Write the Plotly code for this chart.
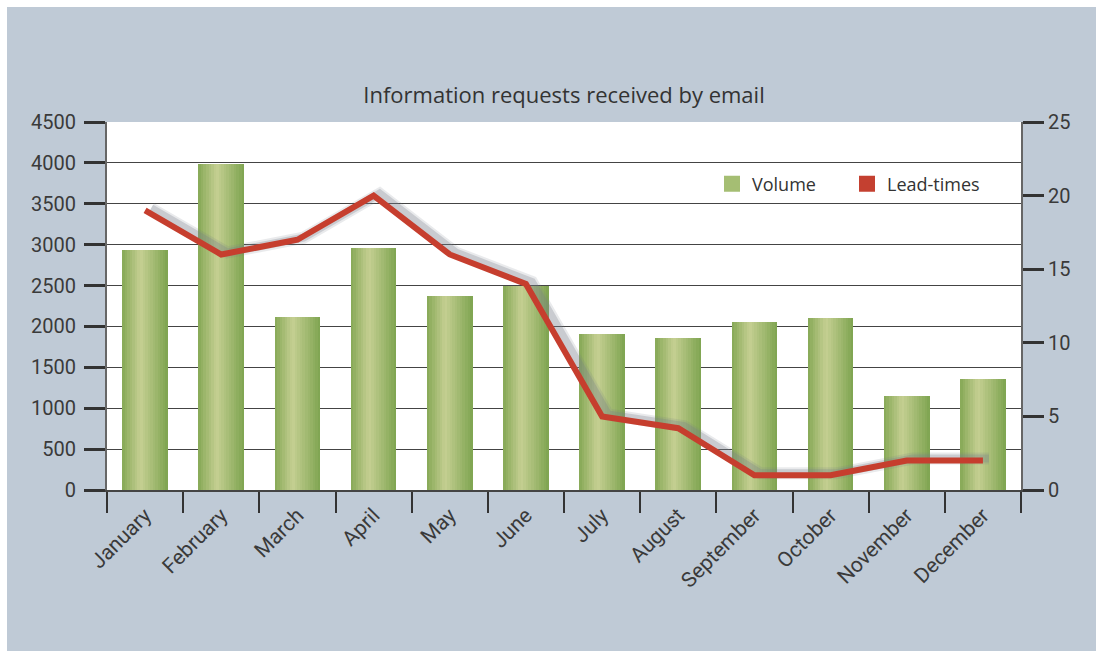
import plotly.graph_objects as go

# ---------------- data ----------------
months = ["January", "February", "March", "April", "May", "June",
          "July", "August", "September", "October", "November", "December"]
volume = [2930, 3990, 2120, 2960, 2370, 2500, 1910, 1860, 2060, 2100, 1150, 1360]
lead_times = [19, 16, 17, 20, 16, 14, 5, 4.2, 1, 1, 2, 2]
left_ticks = [0, 500, 1000, 1500, 2000, 2500, 3000, 3500, 4000, 4500]
right_ticks = [0, 5, 10, 15, 20, 25]
title_text = "Information requests received by email"

# ---------------- geometry ----------------
W_FIG, H_FIG = 1096, 651
PL, PR, PT, PB = 107, 1021, 122, 490      # plot area in pixels
SX, SY = 6, 2                              # shadow offset (right, up)
ml = PL
mr = W_FIG - (PR + SX)
mt = PT - SY
mb = H_FIG - PB
pw = W_FIG - ml - mr
ph = H_FIG - mt - mb


def px(x):
    return (x - ml) / pw


def py(y):
    return (H_FIG - mb - y) / ph


TICK_FONT = dict(family="Roboto, Liberation Sans, sans-serif", size=20, color="#3a3a3a")
XTICK_FONT = dict(family="Roboto, Liberation Sans, sans-serif", size=21, color="#3a3a3a")
TEXT_FONT = dict(family="Open Sans, Noto Sans, sans-serif", color="#333333")

fig = go.Figure()

# ---------------- gradient bars (vertical strips) ----------------
BAR_W = 0.6
N_STRIPS = 18
stops = [(0.0, (134, 168, 86)), (0.4, (197, 207, 146)), (1.0, (126, 164, 80))]


def grad(t):
    for (t0, c0), (t1, c1) in zip(stops[:-1], stops[1:]):
        if t0 <= t <= t1:
            f = (t - t0) / (t1 - t0)
            return "rgb(%d,%d,%d)" % tuple(round(a + (b - a) * f) for a, b in zip(c0, c1))
    return "rgb(%d,%d,%d)" % stops[-1][1]


sw = BAR_W / N_STRIPS
for i in range(N_STRIPS):
    t = (i + 0.5) / N_STRIPS
    fig.add_trace(go.Bar(
        x=months, y=volume,
        width=sw * 1.15 if i < N_STRIPS - 1 else sw,
        offset=-BAR_W / 2 + i * sw,
        marker=dict(color=grad(t), line=dict(width=0)),
        showlegend=False, hoverinfo="skip",
        xaxis="x", yaxis="y",
    ))

# ---------------- legend entries ----------------
fig.add_trace(go.Scatter(
    x=[None], y=[None], mode="markers", name="Volume",
    marker=dict(symbol="square", size=16, color="rgb(165,190,115)"),
    xaxis="x", yaxis="y",
))
fig.add_trace(go.Scatter(
    x=[None], y=[None], mode="markers", name="Lead-times",
    marker=dict(symbol="square", size=16, color="rgb(196,64,48)"),
    xaxis="x", yaxis="y",
))
# keeps the right-hand (lead-time) axis drawn
fig.add_trace(go.Scatter(
    x=[None], y=[None], mode="markers", showlegend=False, hoverinfo="skip",
    xaxis="x", yaxis="y3",
))

# ---------------- line shadow (offset subplot) ----------------
fig.add_trace(go.Scatter(
    x=months, y=lead_times, mode="lines",
    line=dict(color="rgba(120,125,135,0.28)", width=8),
    showlegend=False, hoverinfo="skip",
    xaxis="x2", yaxis="y2",
))
fig.add_trace(go.Scatter(
    x=months, y=lead_times, mode="lines",
    line=dict(color="rgba(120,125,135,0.16)", width=12),
    showlegend=False, hoverinfo="skip",
    xaxis="x2", yaxis="y2",
))

# ---------------- main line (own subplot, drawn above the shadow) ----------------
fig.add_trace(go.Scatter(
    x=months, y=lead_times, mode="lines", name="Lead-times line",
    line=dict(color="rgb(198,62,46)", width=6),
    showlegend=False,
    xaxis="x3", yaxis="y4",
))

x_dom = [0, px(PR)]
y_dom = [py(PB), py(PT)]

fig.update_layout(
    width=W_FIG, height=H_FIG,
    margin=dict(l=ml, r=mr, t=mt, b=mb, pad=0),
    paper_bgcolor="white",
    plot_bgcolor="rgba(0,0,0,0)",
    barmode="overlay",
    bargap=0,
    title=dict(text=title_text, x=564 / W_FIG, xref="container", xanchor="center",
               y=1 - 95 / H_FIG, yref="container", yanchor="middle",
               font=dict(size=22, **TEXT_FONT)),
    xaxis=dict(
        domain=x_dom, type="category", categoryorder="array", categoryarray=months,
        range=[-0.5, 11.5], tickson="boundaries",
        ticks="outside", ticklen=21, tickwidth=2, tickcolor="#333333",
        showline=True, linecolor="#444444", linewidth=1.5,
        showgrid=False, tickangle=-45, tickfont=XTICK_FONT, ticklabelstandoff=3,
        anchor="y", fixedrange=True,
    ),
    yaxis=dict(
        domain=y_dom, range=[0, 4500], tickvals=left_ticks,
        ticks="outside", ticklen=21, tickwidth=2.5, tickcolor="#333333",
        showline=True, linecolor="#666666", linewidth=2,
        showgrid=True, gridcolor="#444444", gridwidth=1.2,
        zeroline=False, tickfont=TICK_FONT, ticklabelstandoff=4,
        anchor="x", fixedrange=True,
    ),
    yaxis3=dict(
        overlaying="y", side="right", range=[0, 25], tickvals=right_ticks,
        ticks="outside", ticklen=21, tickwidth=2.5, tickcolor="#333333",
        showline=True, linecolor="#666666", linewidth=2,
        showgrid=False, zeroline=False, tickfont=TICK_FONT,
        anchor="x", fixedrange=True,
    ),
    xaxis2=dict(
        domain=[px(PL + SX), px(PR + SX)], type="category",
        categoryorder="array", categoryarray=months, range=[-0.5, 11.5],
        visible=False, anchor="y2", fixedrange=True,
    ),
    yaxis2=dict(
        domain=[py(PB - SY), py(PT - SY)], range=[0, 25],
        visible=False, anchor="x2", fixedrange=True,
    ),
    xaxis3=dict(
        domain=x_dom, type="category",
        categoryorder="array", categoryarray=months, range=[-0.5, 11.5],
        visible=False, anchor="y4", fixedrange=True,
    ),
    yaxis4=dict(
        domain=y_dom, range=[0, 25],
        visible=False, anchor="x3", fixedrange=True,
    ),
    legend=dict(
        orientation="h", x=px(712), xanchor="left", y=py(184), yanchor="middle",
        bgcolor="rgba(0,0,0,0)", font=dict(size=18, **TEXT_FONT),
        itemwidth=30, traceorder="normal", entrywidth=90, entrywidthmode="pixels",
    ),
    shapes=[
        dict(type="rect", xref="paper", yref="paper", layer="below",
             x0=px(7), x1=px(W_FIG + 5), y0=py(H_FIG + 5), y1=py(7),
             fillcolor="#bfcad6", line=dict(width=0)),
        dict(type="rect", xref="paper", yref="paper", layer="below",
             x0=px(PL), x1=px(PR), y0=py(PB), y1=py(PT),
             fillcolor="white", line=dict(width=0)),
    ],
)

fig.write_html("out.html", config={"displayModeBar": False},
               post_script="document.body.style.margin='0px';")
